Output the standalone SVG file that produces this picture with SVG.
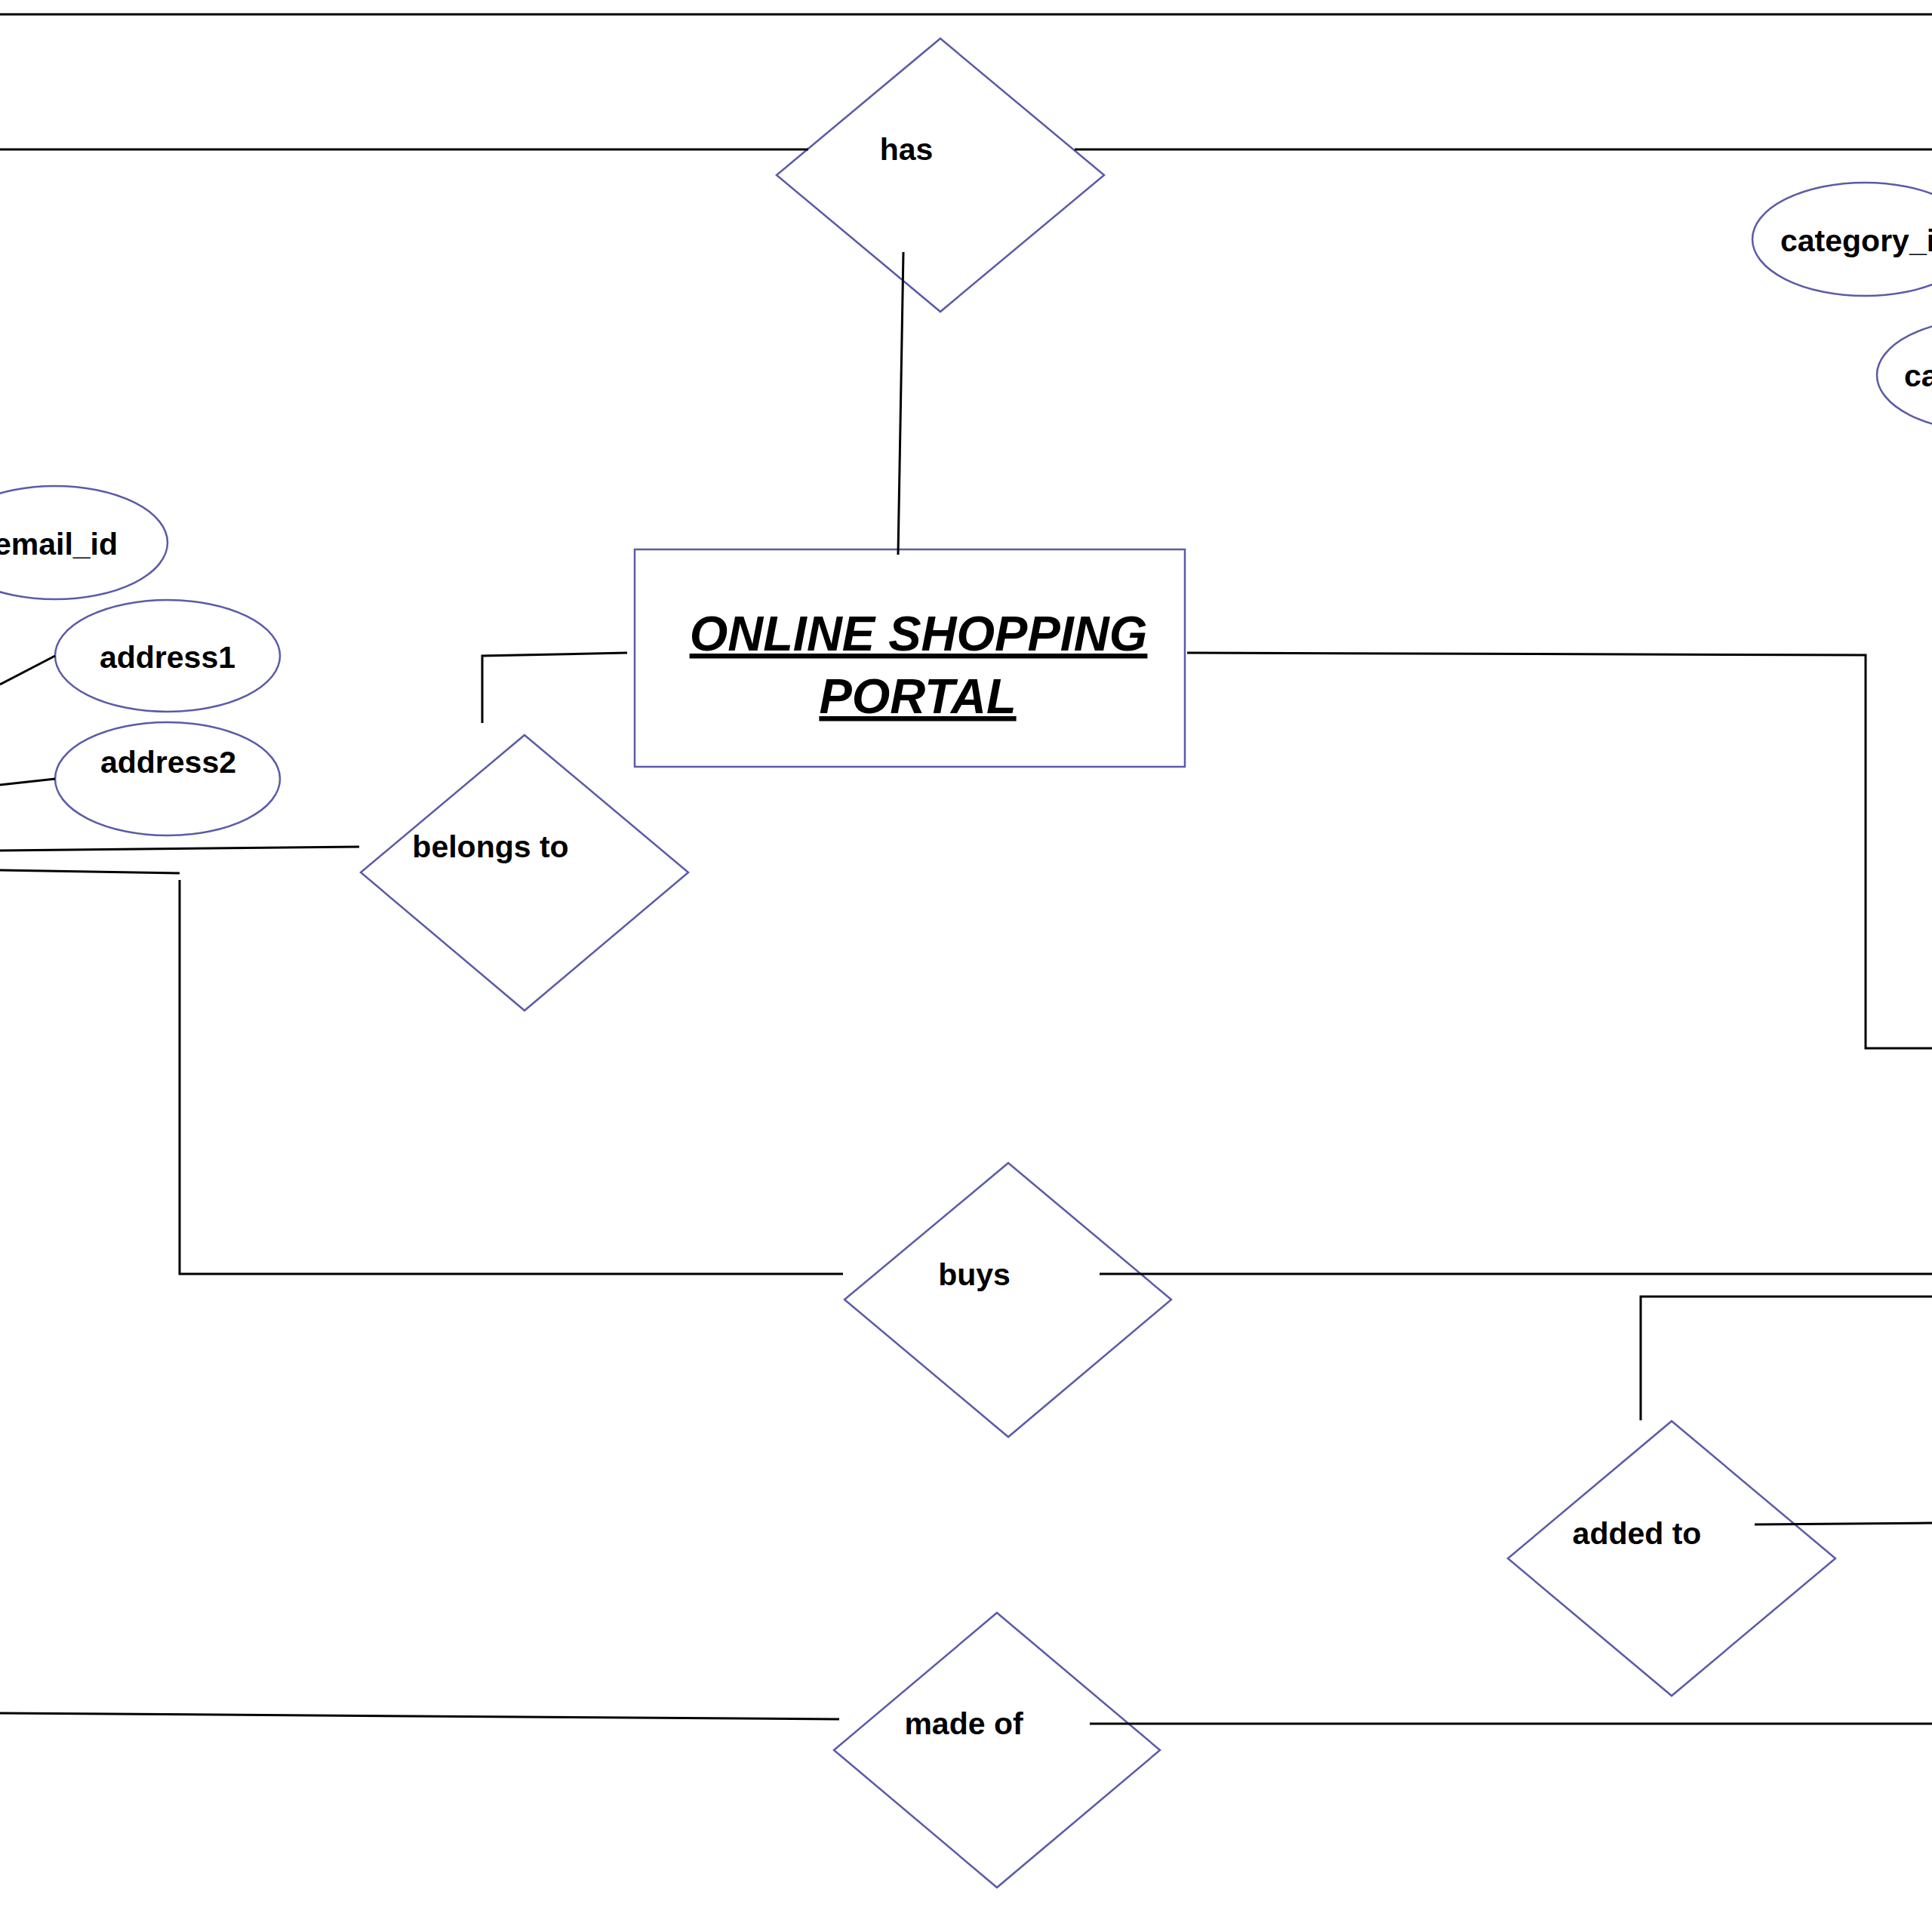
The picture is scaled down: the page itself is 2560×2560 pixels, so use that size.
<svg xmlns="http://www.w3.org/2000/svg" width="2560" height="2560" viewBox="0 0 2560 2560">
<style>
.bg{fill:#ffffff}
.shape{fill:none;stroke:#5b5ba8;stroke-width:2.5}
.conn{fill:none;stroke:#000000;stroke-width:3}
.lbl{font-family:"Liberation Sans",Arial,sans-serif;font-weight:bold;font-size:41px;fill:#000000}
.title{font-family:"Liberation Sans",Arial,sans-serif;font-weight:bold;font-style:italic;font-size:65px;fill:#000000;text-decoration:underline}
</style>
<rect class="bg" x="0" y="0" width="2560" height="2560"/>
<g id="nodes">
  <g id="entity-portal">
    <rect class="shape" x="841" y="728" width="729" height="288"/>
    <text class="title" x="1217" y="862" text-anchor="middle">ONLINE SHOPPING</text>
    <text class="title" x="1216" y="945" text-anchor="middle">PORTAL</text>
  </g>
  <g id="rel-has">
    <polygon class="shape" points="1246,51 1463,232 1246,413 1029,232"/>
    <text class="lbl" x="1201" y="212" text-anchor="middle">has</text>
  </g>
  <g id="rel-belongs-to">
    <polygon class="shape" points="695,974 912,1156 695,1339 478,1156"/>
    <text class="lbl" x="650" y="1136" text-anchor="middle">belongs to</text>
  </g>
  <g id="rel-buys">
    <polygon class="shape" points="1336,1541 1552,1722 1336,1904 1119,1722"/>
    <text class="lbl" x="1291" y="1703" text-anchor="middle">buys</text>
  </g>
  <g id="rel-added-to">
    <polygon class="shape" points="2215,1883 2432,2065 2215,2247 1998,2065"/>
    <text class="lbl" x="2169" y="2046" text-anchor="middle">added to</text>
  </g>
  <g id="rel-made-of">
    <polygon class="shape" points="1321,2137 1537,2319 1321,2501 1105,2319"/>
    <text class="lbl" x="1277" y="2298" text-anchor="middle">made of</text>
  </g>
  <g id="attr-email-id">
    <ellipse class="shape" cx="73" cy="719" rx="149" ry="75"/>
    <text class="lbl" x="74" y="735" text-anchor="middle">email_id</text>
  </g>
  <g id="attr-address1">
    <ellipse class="shape" cx="222" cy="869" rx="149" ry="74"/>
    <text class="lbl" x="222" y="885" text-anchor="middle">address1</text>
  </g>
  <g id="attr-address2">
    <ellipse class="shape" cx="222" cy="1032" rx="149" ry="75"/>
    <text class="lbl" x="223" y="1024" text-anchor="middle">address2</text>
  </g>
  <g id="attr-category-id">
    <ellipse class="shape" cx="2471" cy="317" rx="149" ry="75"/>
    <text class="lbl" x="2359" y="333">category_i</text>
  </g>
  <g id="attr-ca">
    <ellipse class="shape" cx="2636" cy="497" rx="149" ry="75"/>
    <text class="lbl" x="2523" y="512">ca</text>
  </g>
</g>
<g id="connectors">
  <line class="conn" x1="0" y1="19" x2="2560" y2="19"/>
  <line class="conn" x1="0" y1="198" x2="1071" y2="198"/>
  <line class="conn" x1="1424" y1="198" x2="2560" y2="198"/>
  <line class="conn" x1="1197" y1="334" x2="1190" y2="735"/>
  <polyline class="conn" points="831,865 639,869 639,958"/>
  <polyline class="conn" points="1573,865 2472,868 2472,1389 2560,1389"/>
  <line class="conn" x1="0" y1="907" x2="73" y2="869"/>
  <line class="conn" x1="0" y1="1040" x2="73" y2="1032"/>
  <line class="conn" x1="0" y1="1127" x2="476" y2="1122"/>
  <line class="conn" x1="0" y1="1153" x2="238" y2="1157"/>
  <polyline class="conn" points="238,1166 238,1688 1117,1688"/>
  <line class="conn" x1="1457" y1="1688" x2="2560" y2="1688"/>
  <polyline class="conn" points="2174,1882 2174,1718 2560,1718"/>
  <line class="conn" x1="2325" y1="2020" x2="2560" y2="2018"/>
  <line class="conn" x1="0" y1="2270" x2="1112" y2="2278"/>
  <line class="conn" x1="1444" y1="2284" x2="2560" y2="2284"/>
</g>
</svg>
